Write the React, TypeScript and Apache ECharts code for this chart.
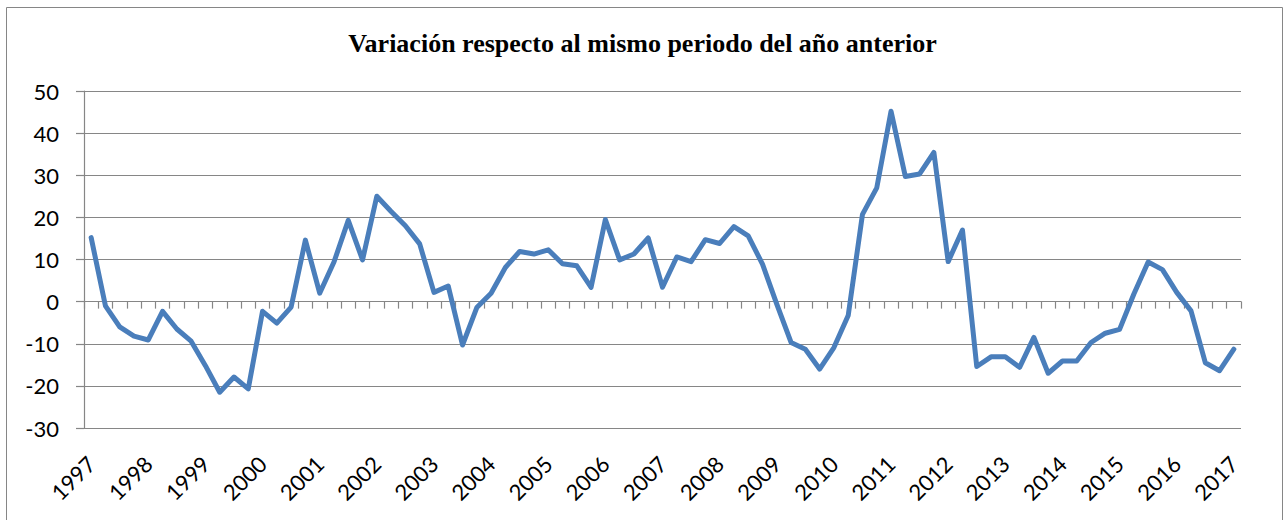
import React, { useEffect, useRef } from "react";
import * as echarts from "echarts";

const titleText = "Variación respecto al mismo periodo del año anterior";
const years = ["1997","1998","1999","2000","2001","2002","2003","2004","2005","2006","2007","2008","2009","2010","2011","2012","2013","2014","2015","2016","2017"];
const quarters = ["T1", "T2", "T3", "T4"];
const yTicks = { min: -30, max: 50, interval: 10 };
const values = [
  15.2, -1.0, -6.0, -8.2, -9.1, -2.3, -6.5, -9.4, -15.2, -21.5,
  -17.9, -20.7, -2.3, -5.1, -1.3, 14.6, 2.0, 9.4, 19.3, 9.9,
  25.0, 21.4, 18.0, 13.7, 2.2, 3.7, -10.3, -1.4, 2.0, 8.1,
  11.9, 11.3, 12.3, 9.0, 8.5, 3.4, 19.5, 9.9, 11.3, 15.1,
  3.4, 10.6, 9.5, 14.7, 13.8, 17.8, 15.6, 8.9, -0.6, -9.7,
  -11.3, -16.0, -10.9, -3.3, 20.7, 27.0, 45.2, 29.7, 30.3, 35.4,
  9.5, 17.0, -15.4, -13.1, -13.1, -15.6, -8.5, -17.0, -14.1, -14.1,
  -9.7, -7.5, -6.6, 1.8, 9.4, 7.6, 2.2, -2.2, -14.5, -16.4, -11.3,
];

const categories: string[] = [];
years.forEach((y, yi) => {
  quarters.forEach((q) => {
    if (yi < years.length - 1 || q === "T1") categories.push(y + " " + q);
  });
});

const GRAY = "#868686";

export default function App() {
  const ref = useRef<HTMLDivElement>(null);
  useEffect(() => {
    if (!ref.current) return;
    const chart = echarts.init(ref.current, null, { renderer: "svg" });
    chart.setOption({
      animation: false,
      backgroundColor: "#ffffff",
      title: {
        text: titleText,
        left: "center",
        top: 25,
        textStyle: {
          fontFamily: "Liberation Serif",
          fontWeight: "bold",
          fontSize: 26,
          color: "#000000",
        },
      },
      graphic: [
        {
          type: "rect",
          shape: { x: 6.5, y: 7.5, width: 1276, height: 540 },
          style: { fill: "none", stroke: GRAY, lineWidth: 1 },
          z: 100,
          silent: true,
        },
      ],
      grid: { left: 84, right: 44, top: 91, bottom: 92, containLabel: false },
      xAxis: [
        {
          type: "category",
          data: categories,
          boundaryGap: true,
          position: "bottom",
          axisLine: { show: true, onZero: true, lineStyle: { color: GRAY, width: 1.2 } },
          axisTick: { show: true, interval: 0, length: 7, lineStyle: { color: GRAY, width: 1.2 } },
          axisLabel: { show: false },
          splitLine: { show: false },
        },
        {
          type: "category",
          data: categories,
          boundaryGap: true,
          position: "bottom",
          axisLine: { show: false, onZero: false },
          axisTick: { show: false },
          axisLabel: {
            show: true,
            interval: 3,
            rotate: 45,
            margin: 32,
            fontFamily: "Lato",
            fontSize: 22,
            color: "#000000",
            formatter: (v: string) => v.slice(0, 4),
          },
          splitLine: { show: false },
        },
      ],
      yAxis: {
        type: "value",
        min: yTicks.min,
        max: yTicks.max,
        interval: yTicks.interval,
        axisLine: { show: true, lineStyle: { color: GRAY, width: 1.2 } },
        axisTick: { show: true, length: 8, lineStyle: { color: GRAY, width: 1.2 } },
        axisLabel: {
          margin: 25,
          fontFamily: "Lato",
          fontSize: 22,
          color: "#000000",
        },
        splitLine: { show: true, lineStyle: { color: GRAY, width: 1.2 } },
      },
      series: [
        {
          type: "line",
          xAxisIndex: 0,
          data: values,
          symbol: "none",
          lineStyle: { color: "#4A7EBB", width: 5, join: "round", cap: "round" },
          itemStyle: { color: "#4A7EBB" },
        },
      ],
    });
    return () => chart.dispose();
  }, []);
  return (
    <div
      ref={ref}
      style={{ position: "fixed", left: 0, top: 0, width: 1285, height: 520 }}
    />
  );
}
